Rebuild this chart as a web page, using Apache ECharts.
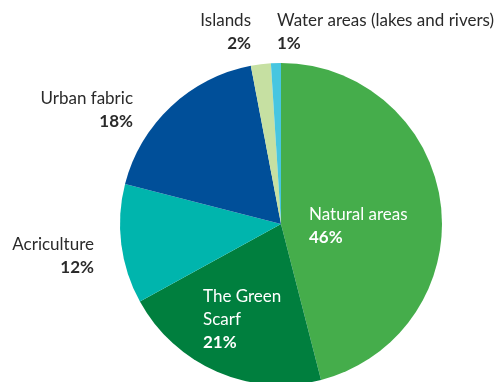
<!DOCTYPE html>
<html><head><meta charset="utf-8">
<script src="https://cdn.jsdelivr.net/npm/echarts@6/dist/echarts.min.js"></script>
<style>html,body{margin:0;padding:0;background:#fff}#c{width:501px;height:382px}</style>
</head><body><div id="c"></div>
<script>
const categories = ['Natural areas', 'The Green\nScarf', 'Acriculture', 'Urban fabric', 'Islands', 'Water areas (lakes and rivers)'];
const values = [46, 21, 12, 18, 2, 1];
const colors = ['#45ad4b', '#007f3e', '#00b5ad', '#004f99', '#c6e0a2', '#47c6e0'];
const labelInside = [true, true, false, false, false, false];
// label anchor positions [x, y, align]
const labelPos = [[309, 203, 'left'], [203, 285, 'left'], [94, 233, 'right'], [133, 87, 'right'], [251, 9, 'right'], [277, 9, 'left']];

const chart = echarts.init(document.getElementById('c'), null, {renderer: 'canvas'});
const font = 'Lato';
chart.setOption({
  animation: false,
  series: [{
    type: 'pie',
    center: [281, 224],
    radius: 161,
    startAngle: 90,
    clockwise: true,
    avoidLabelOverlap: false,
    labelLine: {show: false},
    data: categories.map((c, i) => ({
      name: c, value: values[i],
      itemStyle: {color: colors[i]},
      label: {
        show: true,
        formatter: '{n|' + c.split('\n').join('}\n{n|') + '}\n{p|' + values[i] + '%}',
        rich: {
          n: {fontFamily: font, fontSize: 17, lineHeight: 23, color: labelInside[i] ? '#fff' : '#2a2a2a', align: labelPos[i][2]},
          p: {fontFamily: font, fontSize: 17, fontWeight: 'bold', lineHeight: 23, color: labelInside[i] ? '#fff' : '#2a2a2a', align: labelPos[i][2]}
        }
      }
    }))
  }]
});
chart.setOption({
  series: [{
    labelLayout: function (p) {
      const lp = labelPos[p.dataIndex];
      return {x: lp[0], y: lp[1], align: lp[2], verticalAlign: 'top'};
    }
  }]
});
</script></body></html>
